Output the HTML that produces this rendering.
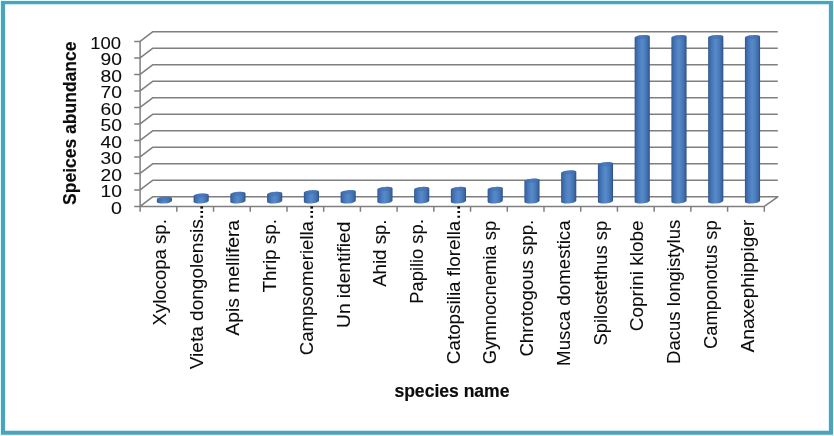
<!DOCTYPE html>
<html lang="en"><head><meta charset="utf-8"><title>Species abundance</title>
<style>html,body{margin:0;padding:0;background:#fff}svg{display:block}text{font-family:"Liberation Sans",sans-serif;fill:#0c0c0c;stroke:#0c0c0c;stroke-width:0.08}text.b{stroke-width:0.2}</style>
</head><body>
<svg width="834" height="436" viewBox="0 0 834 436">
<defs><linearGradient id="g" x1="0" y1="0" x2="1" y2="0"><stop offset="0" stop-color="#2e5388"/><stop offset="0.1" stop-color="#3c69a6"/><stop offset="0.3" stop-color="#4a7dc0"/><stop offset="0.48" stop-color="#5989c7"/><stop offset="0.7" stop-color="#4b7dbd"/><stop offset="0.9" stop-color="#3a66a1"/><stop offset="1" stop-color="#294c80"/></linearGradient></defs>
<rect x="0" y="0" width="834" height="436" fill="#dbfcfd"/>
<rect x="3" y="3" width="828" height="430" fill="#ffffff"/>
<path fill-rule="evenodd" fill="#50a2ba" d="M1,0.9H833V434.8H1ZM5,4.4V430.6H829V4.4Z"/>
<rect x="5.5" y="4.9" width="823" height="425.2" fill="none" stroke="#e0f8fc" stroke-width="1"/>
<path d="M134.2,189.90H140.1L152.6,180.30H777.8 M134.2,173.40H140.1L152.6,163.80H777.8 M134.2,156.90H140.1L152.6,147.30H777.8 M134.2,140.40H140.1L152.6,130.80H777.8 M134.2,123.90H140.1L152.6,114.30H777.8 M134.2,107.40H140.1L152.6,97.80H777.8 M134.2,90.90H140.1L152.6,81.30H777.8 M134.2,74.40H140.1L152.6,64.80H777.8 M134.2,57.90H140.1L152.6,48.30H777.8 M134.2,41.40H140.1L152.6,31.80H777.8 M134.2,206.40H764.3L777.8,196.80H152.6L140.1,206.40 M140.1,41.40V211.70 M176.82,206.40V211.70 M213.54,206.40V211.70 M250.25,206.40V211.70 M286.97,206.40V211.70 M323.69,206.40V211.70 M360.41,206.40V211.70 M397.12,206.40V211.70 M433.84,206.40V211.70 M470.56,206.40V211.70 M507.28,206.40V211.70 M543.99,206.40V211.70 M580.71,206.40V211.70 M617.43,206.40V211.70 M654.15,206.40V211.70 M690.86,206.40V211.70 M727.58,206.40V211.70 M764.30,206.40V211.70" fill="none" stroke="#7f7f7f" stroke-width="1.5" stroke-linejoin="round"/>
<path d="M156.82,199.40A7.6,2.0 -4.5 0 1 171.98,198.20L171.98,200.85A7.6,2.0 -4.5 0 1 156.82,202.05Z" fill="url(#g)"/>
<ellipse cx="164.40" cy="198.80" rx="7.6" ry="2.0" transform="rotate(-4.5 164.40 198.80)" fill="#3f70b0" fill-opacity="0.55"/>
<path d="M193.58,196.10A7.6,2.0 -4.5 0 1 208.73,194.90L208.73,200.85A7.6,2.0 -4.5 0 1 193.58,202.05Z" fill="url(#g)"/>
<ellipse cx="201.16" cy="195.50" rx="7.6" ry="2.0" transform="rotate(-4.5 201.16 195.50)" fill="#3f70b0" fill-opacity="0.55"/>
<path d="M230.34,194.45A7.6,2.0 -4.5 0 1 245.49,193.25L245.49,200.85A7.6,2.0 -4.5 0 1 230.34,202.05Z" fill="url(#g)"/>
<ellipse cx="237.91" cy="193.85" rx="7.6" ry="2.0" transform="rotate(-4.5 237.91 193.85)" fill="#3f70b0" fill-opacity="0.55"/>
<path d="M267.09,194.45A7.6,2.0 -4.5 0 1 282.24,193.25L282.24,200.85A7.6,2.0 -4.5 0 1 267.09,202.05Z" fill="url(#g)"/>
<ellipse cx="274.67" cy="193.85" rx="7.6" ry="2.0" transform="rotate(-4.5 274.67 193.85)" fill="#3f70b0" fill-opacity="0.55"/>
<path d="M303.85,192.80A7.6,2.0 -4.5 0 1 319.00,191.60L319.00,200.85A7.6,2.0 -4.5 0 1 303.85,202.05Z" fill="url(#g)"/>
<ellipse cx="311.42" cy="192.20" rx="7.6" ry="2.0" transform="rotate(-4.5 311.42 192.20)" fill="#3f70b0" fill-opacity="0.55"/>
<path d="M340.60,192.80A7.6,2.0 -4.5 0 1 355.76,191.60L355.76,200.85A7.6,2.0 -4.5 0 1 340.60,202.05Z" fill="url(#g)"/>
<ellipse cx="348.18" cy="192.20" rx="7.6" ry="2.0" transform="rotate(-4.5 348.18 192.20)" fill="#3f70b0" fill-opacity="0.55"/>
<path d="M377.36,189.50A7.6,2.0 -4.5 0 1 392.51,188.30L392.51,200.85A7.6,2.0 -4.5 0 1 377.36,202.05Z" fill="url(#g)"/>
<ellipse cx="384.94" cy="188.90" rx="7.6" ry="2.0" transform="rotate(-4.5 384.94 188.90)" fill="#3f70b0" fill-opacity="0.55"/>
<path d="M414.12,189.50A7.6,2.0 -4.5 0 1 429.27,188.30L429.27,200.85A7.6,2.0 -4.5 0 1 414.12,202.05Z" fill="url(#g)"/>
<ellipse cx="421.69" cy="188.90" rx="7.6" ry="2.0" transform="rotate(-4.5 421.69 188.90)" fill="#3f70b0" fill-opacity="0.55"/>
<path d="M450.87,189.50A7.6,2.0 -4.5 0 1 466.02,188.30L466.02,200.85A7.6,2.0 -4.5 0 1 450.87,202.05Z" fill="url(#g)"/>
<ellipse cx="458.45" cy="188.90" rx="7.6" ry="2.0" transform="rotate(-4.5 458.45 188.90)" fill="#3f70b0" fill-opacity="0.55"/>
<path d="M487.63,189.50A7.6,2.0 -4.5 0 1 502.78,188.30L502.78,200.85A7.6,2.0 -4.5 0 1 487.63,202.05Z" fill="url(#g)"/>
<ellipse cx="495.20" cy="188.90" rx="7.6" ry="2.0" transform="rotate(-4.5 495.20 188.90)" fill="#3f70b0" fill-opacity="0.55"/>
<path d="M524.38,181.25A7.6,2.0 -4.5 0 1 539.54,180.05L539.54,200.85A7.6,2.0 -4.5 0 1 524.38,202.05Z" fill="url(#g)"/>
<ellipse cx="531.96" cy="180.65" rx="7.6" ry="2.0" transform="rotate(-4.5 531.96 180.65)" fill="#3f70b0" fill-opacity="0.55"/>
<path d="M561.14,173.00A7.6,2.0 -4.5 0 1 576.29,171.80L576.29,200.85A7.6,2.0 -4.5 0 1 561.14,202.05Z" fill="url(#g)"/>
<ellipse cx="568.72" cy="172.40" rx="7.6" ry="2.0" transform="rotate(-4.5 568.72 172.40)" fill="#3f70b0" fill-opacity="0.55"/>
<path d="M597.90,164.75A7.6,2.0 -4.5 0 1 613.05,163.55L613.05,200.85A7.6,2.0 -4.5 0 1 597.90,202.05Z" fill="url(#g)"/>
<ellipse cx="605.47" cy="164.15" rx="7.6" ry="2.0" transform="rotate(-4.5 605.47 164.15)" fill="#3f70b0" fill-opacity="0.55"/>
<path d="M634.65,37.70A7.6,2.0 -4.5 0 1 649.80,36.50L649.80,200.85A7.6,2.0 -4.5 0 1 634.65,202.05Z" fill="url(#g)"/>
<ellipse cx="642.23" cy="37.10" rx="7.6" ry="2.0" transform="rotate(-4.5 642.23 37.10)" fill="#3f70b0" fill-opacity="0.55"/>
<path d="M671.41,37.70A7.6,2.0 -4.5 0 1 686.56,36.50L686.56,200.85A7.6,2.0 -4.5 0 1 671.41,202.05Z" fill="url(#g)"/>
<ellipse cx="678.98" cy="37.10" rx="7.6" ry="2.0" transform="rotate(-4.5 678.98 37.10)" fill="#3f70b0" fill-opacity="0.55"/>
<path d="M708.16,37.70A7.6,2.0 -4.5 0 1 723.32,36.50L723.32,200.85A7.6,2.0 -4.5 0 1 708.16,202.05Z" fill="url(#g)"/>
<ellipse cx="715.74" cy="37.10" rx="7.6" ry="2.0" transform="rotate(-4.5 715.74 37.10)" fill="#3f70b0" fill-opacity="0.55"/>
<path d="M744.92,37.70A7.6,2.0 -4.5 0 1 760.07,36.50L760.07,200.85A7.6,2.0 -4.5 0 1 744.92,202.05Z" fill="url(#g)"/>
<ellipse cx="752.50" cy="37.10" rx="7.6" ry="2.0" transform="rotate(-4.5 752.50 37.10)" fill="#3f70b0" fill-opacity="0.55"/>
<text x="121.9" y="213.70" font-size="17.4" text-anchor="end" textLength="10.9" lengthAdjust="spacingAndGlyphs">0</text>
<text x="122.0" y="197.20" font-size="17.4" text-anchor="end" textLength="21.4" lengthAdjust="spacingAndGlyphs">10</text>
<text x="122.0" y="180.70" font-size="17.4" text-anchor="end" textLength="21.4" lengthAdjust="spacingAndGlyphs">20</text>
<text x="122.0" y="164.20" font-size="17.4" text-anchor="end" textLength="21.4" lengthAdjust="spacingAndGlyphs">30</text>
<text x="122.0" y="147.70" font-size="17.4" text-anchor="end" textLength="21.4" lengthAdjust="spacingAndGlyphs">40</text>
<text x="122.0" y="131.20" font-size="17.4" text-anchor="end" textLength="21.4" lengthAdjust="spacingAndGlyphs">50</text>
<text x="122.0" y="114.70" font-size="17.4" text-anchor="end" textLength="21.4" lengthAdjust="spacingAndGlyphs">60</text>
<text x="122.0" y="98.20" font-size="17.4" text-anchor="end" textLength="21.4" lengthAdjust="spacingAndGlyphs">70</text>
<text x="122.0" y="81.70" font-size="17.4" text-anchor="end" textLength="21.4" lengthAdjust="spacingAndGlyphs">80</text>
<text x="122.0" y="65.20" font-size="17.4" text-anchor="end" textLength="21.4" lengthAdjust="spacingAndGlyphs">90</text>
<text x="121.0" y="48.70" font-size="17.4" text-anchor="end" textLength="30.8" lengthAdjust="spacingAndGlyphs">100</text>
<text transform="translate(76.1 204.9) rotate(-90)" class="b" font-size="19.1" font-weight="bold" textLength="163.4" lengthAdjust="spacingAndGlyphs">Speices abundance</text>
<text class="b" x="394.4" y="397.4" font-size="19" font-weight="bold" textLength="115.1" lengthAdjust="spacingAndGlyphs">species name</text>
<text id="xl0" transform="translate(166.00 325.40) rotate(-90)" font-size="18.3" textLength="106.20" lengthAdjust="spacingAndGlyphs">Xylocopa sp.</text>
<text id="xl1" transform="translate(202.72 0) rotate(-90)" font-size="18.3"><tspan x="-369.30" textLength="150.00" lengthAdjust="spacingAndGlyphs">Vieta dongolensis</tspan><tspan x="-219.07" font-family="Liberation Mono,monospace" font-size="23.2">…</tspan></text>
<text id="xl2" transform="translate(239.44 335.70) rotate(-90)" font-size="18.3" textLength="115.80" lengthAdjust="spacingAndGlyphs">Apis mellifera</text>
<text id="xl3" transform="translate(276.16 292.40) rotate(-90)" font-size="18.3" textLength="73.40" lengthAdjust="spacingAndGlyphs">Thrip sp.</text>
<text id="xl4" transform="translate(312.88 0) rotate(-90)" font-size="18.3"><tspan x="-355.20" textLength="134.10" lengthAdjust="spacingAndGlyphs">Campsomeriella</tspan><tspan x="-219.07" font-family="Liberation Mono,monospace" font-size="23.2">…</tspan></text>
<text id="xl5" transform="translate(349.60 327.90) rotate(-90)" font-size="18.3" textLength="106.30" lengthAdjust="spacingAndGlyphs">Un identified</text>
<text id="xl6" transform="translate(386.32 286.80) rotate(-90)" font-size="18.3" textLength="67.30" lengthAdjust="spacingAndGlyphs">Ahid sp.</text>
<text id="xl7" transform="translate(423.04 303.70) rotate(-90)" font-size="18.3" textLength="84.50" lengthAdjust="spacingAndGlyphs">Papilio sp.</text>
<text id="xl8" transform="translate(459.76 0) rotate(-90)" font-size="18.3"><tspan x="-364.20" textLength="143.50" lengthAdjust="spacingAndGlyphs">Catopsilia florella</tspan><tspan x="-219.07" font-family="Liberation Mono,monospace" font-size="23.2">…</tspan></text>
<text id="xl9" transform="translate(496.48 364.20) rotate(-90)" font-size="18.3" textLength="143.40" lengthAdjust="spacingAndGlyphs">Gymnocnemia sp</text>
<text id="xl10" transform="translate(533.20 356.60) rotate(-90)" font-size="18.3" textLength="136.90" lengthAdjust="spacingAndGlyphs">Chrotogous spp.</text>
<text id="xl11" transform="translate(569.92 365.90) rotate(-90)" font-size="18.3" textLength="145.50" lengthAdjust="spacingAndGlyphs">Musca domestica</text>
<text id="xl12" transform="translate(606.64 345.50) rotate(-90)" font-size="18.3" textLength="124.70" lengthAdjust="spacingAndGlyphs">Spilostethus sp</text>
<text id="xl13" transform="translate(643.36 331.20) rotate(-90)" font-size="18.3" textLength="110.80" lengthAdjust="spacingAndGlyphs">Coprini klobe</text>
<text id="xl14" transform="translate(680.08 363.90) rotate(-90)" font-size="18.3" textLength="144.20" lengthAdjust="spacingAndGlyphs">Dacus longistylus</text>
<text id="xl15" transform="translate(716.80 348.90) rotate(-90)" font-size="18.3" textLength="128.50" lengthAdjust="spacingAndGlyphs">Camponotus sp</text>
<text id="xl16" transform="translate(753.52 352.40) rotate(-90)" font-size="18.3" textLength="132.70" lengthAdjust="spacingAndGlyphs">Anaxephippiger</text>
</svg></body></html>
